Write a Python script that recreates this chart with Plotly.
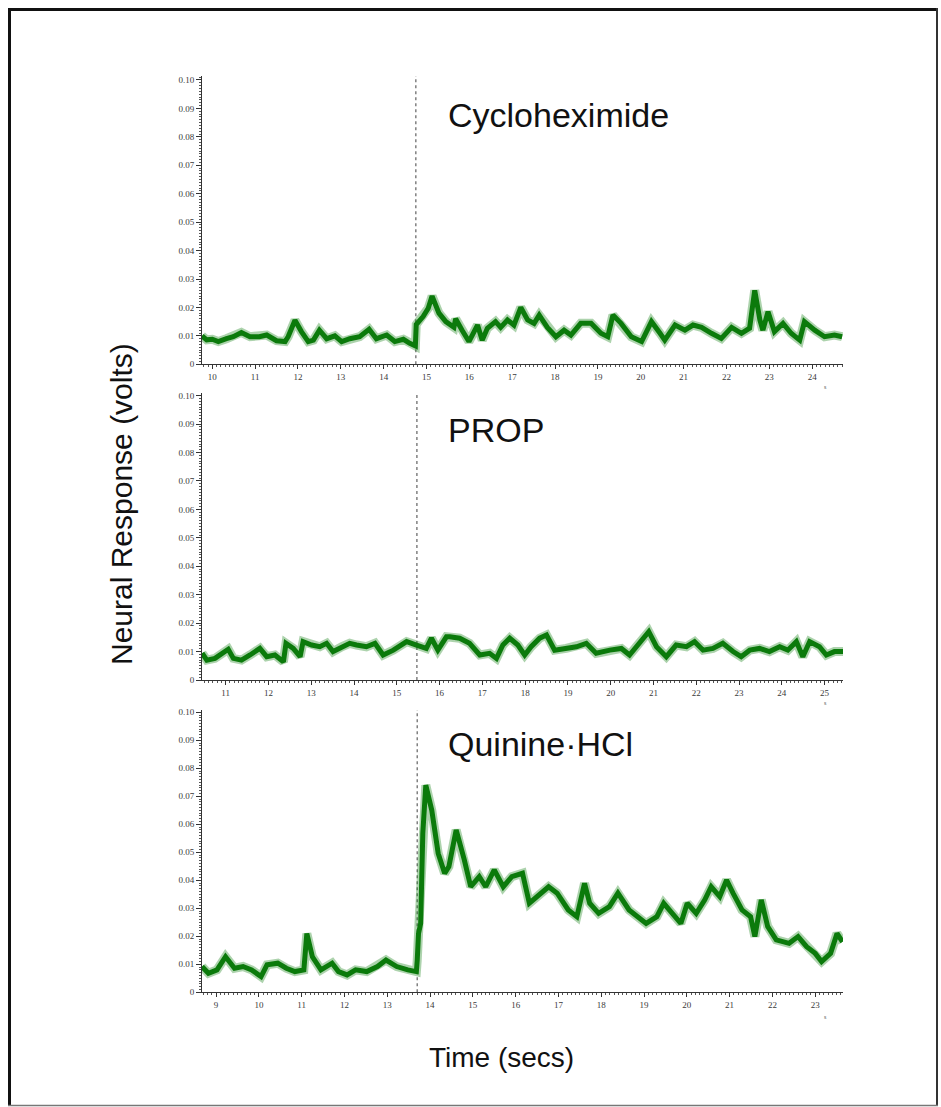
import plotly.graph_objects as go

W, H = 941, 1107

# ---------------- data (seconds, volts) ----------------
cyclo_t = [9.76, 9.87, 10.0, 10.14, 10.33, 10.49, 10.68, 10.88, 11.1, 11.27, 11.5, 11.7, 11.77, 11.93,
           12.08, 12.24, 12.36, 12.5, 12.67, 12.86, 13.02, 13.21, 13.44, 13.66, 13.83, 14.07, 14.26,
           14.46, 14.61, 14.74, 14.76, 14.92, 15.04, 15.13, 15.29, 15.45, 15.64, 15.68, 15.83, 15.99,
           16.19, 16.30, 16.42, 16.61, 16.73, 16.89, 17.04, 17.2, 17.36, 17.51, 17.63, 17.82, 18.02,
           18.21, 18.37, 18.6, 18.84, 19.07, 19.23, 19.35, 19.54, 19.78, 20.02, 20.25, 20.45, 20.56,
           20.8, 21.03, 21.22, 21.42, 21.65, 21.88, 22.12, 22.35, 22.54, 22.66, 22.78, 22.85, 22.97,
           23.12, 23.32, 23.51, 23.71, 23.82, 24.06, 24.29, 24.52, 24.70]
cyclo_v = [0.0100, 0.0086, 0.0088, 0.0080, 0.0090, 0.0097, 0.0112, 0.0097, 0.0097, 0.0103, 0.0083,
           0.0080, 0.0097, 0.0155, 0.0115, 0.0080, 0.0085, 0.0120, 0.0090, 0.0100, 0.0080, 0.0090,
           0.0097, 0.0123, 0.0090, 0.0103, 0.0080, 0.0088, 0.0074, 0.0065, 0.0140, 0.0168, 0.0197,
           0.0240, 0.0180, 0.0150, 0.0130, 0.0160, 0.0120, 0.0080, 0.0138, 0.0085, 0.0127, 0.0150,
           0.0130, 0.0156, 0.0138, 0.0200, 0.0156, 0.0144, 0.0173, 0.0130, 0.0097, 0.0120, 0.0103,
           0.0144, 0.0144, 0.0109, 0.0097, 0.0173, 0.0144, 0.0097, 0.0080, 0.0150, 0.0109, 0.0085,
           0.0138, 0.0120, 0.0138, 0.0130, 0.0109, 0.0091, 0.0130, 0.0109, 0.0127, 0.0260, 0.0156,
           0.0120, 0.0185, 0.0115, 0.0144, 0.0109, 0.0085, 0.0150, 0.0120, 0.0097, 0.0103, 0.0097]

prop_t = [10.45, 10.56, 10.75, 10.95, 11.06, 11.18, 11.37, 11.57, 11.8, 11.96, 12.15, 12.35, 12.41,
          12.58, 12.74, 12.81, 13.01, 13.2, 13.36, 13.51, 13.71, 13.9, 14.06, 14.29, 14.49, 14.68,
          14.92, 15.23, 15.46, 15.69, 15.81, 15.96, 16.16, 16.24, 16.47, 16.7, 16.94, 17.17, 17.33,
          17.48, 17.64, 17.83, 17.99, 18.14, 18.34, 18.5, 18.69, 18.96, 19.2, 19.43, 19.66, 19.98,
          20.25, 20.44, 20.68, 20.89, 21.07, 21.3, 21.53, 21.77, 21.96, 22.16, 22.39, 22.62, 22.86,
          23.05, 23.25, 23.48, 23.71, 23.95, 24.14, 24.34, 24.49, 24.65, 24.88, 25.04, 25.23, 25.43]
prop_v = [0.0094, 0.0070, 0.0076, 0.0094, 0.0108, 0.0076, 0.0070, 0.0088, 0.0111, 0.0082, 0.0088,
          0.0064, 0.0129, 0.0111, 0.0082, 0.0135, 0.0123, 0.0117, 0.0129, 0.0100, 0.0117, 0.0129,
          0.0123, 0.0117, 0.0129, 0.0088, 0.0105, 0.0135, 0.0123, 0.0111, 0.0147, 0.0105, 0.0152,
          0.0152, 0.0147, 0.0129, 0.0088, 0.0094, 0.0076, 0.0123, 0.0147, 0.0123, 0.0088, 0.0117,
          0.0147, 0.0158, 0.0105, 0.0111, 0.0117, 0.0129, 0.0094, 0.0105, 0.0111, 0.0088, 0.0135,
          0.0170, 0.0117, 0.0082, 0.0123, 0.0117, 0.0135, 0.0105, 0.0111, 0.0129, 0.0100, 0.0082,
          0.0105, 0.0111, 0.0100, 0.0117, 0.0105, 0.0135, 0.0082, 0.0135, 0.0117, 0.0088, 0.0100,
          0.0100]

quin_t = [8.67, 8.82, 9.02, 9.22, 9.43, 9.63, 9.83, 10.05, 10.19, 10.44, 10.64, 10.84, 11.05, 11.12,
          11.25, 11.45, 11.71, 11.86, 12.06, 12.26, 12.52, 12.77, 12.97, 13.22, 13.48, 13.68, 13.70,
          13.73, 13.78, 13.83, 13.9, 14.04, 14.19, 14.34, 14.44, 14.61, 14.8, 14.95, 15.15, 15.3,
          15.5, 15.71, 15.91, 16.16, 16.32, 16.52, 16.77, 16.97, 17.23, 17.43, 17.61, 17.73, 17.94,
          18.19, 18.39, 18.65, 18.85, 19.05, 19.3, 19.46, 19.66, 19.86, 20.01, 20.22, 20.42, 20.57,
          20.77, 20.93, 21.08, 21.29, 21.49, 21.59, 21.74, 21.89, 22.09, 22.39, 22.6, 22.8, 23.0,
          23.15, 23.36, 23.51, 23.64]
quin_v = [0.0092, 0.0068, 0.0080, 0.0127, 0.0086, 0.0092, 0.0080, 0.0056, 0.0098, 0.0104, 0.0086,
          0.0074, 0.0080, 0.0210, 0.0127, 0.0080, 0.0104, 0.0074, 0.0062, 0.0080, 0.0074, 0.0092,
          0.0115, 0.0092, 0.0080, 0.0074, 0.0115, 0.0210, 0.0246, 0.0568, 0.0740, 0.0650, 0.0496,
          0.0425, 0.0449, 0.0580, 0.0473, 0.0377, 0.0413, 0.0377, 0.0437, 0.0377, 0.0413, 0.0425,
          0.0318, 0.0342, 0.0377, 0.0354, 0.0294, 0.0270, 0.0389, 0.0318, 0.0282, 0.0306, 0.0354,
          0.0294, 0.0270, 0.0246, 0.0270, 0.0318, 0.0282, 0.0246, 0.0318, 0.0282, 0.0330, 0.0377,
          0.0342, 0.0401, 0.0354, 0.0294, 0.0270, 0.0199, 0.0330, 0.0235, 0.0187, 0.0175, 0.0199,
          0.0163, 0.0139, 0.0110, 0.0139, 0.0210, 0.0180]

panel_names = ["Cycloheximide", "PROP", "Quinine\u00b7HCl"]
stimulus_onset = [14.75, 15.47, 13.70]
x_ranges = [[9.76, 24.72], [10.447, 25.43], [8.67, 23.65]]
y_tops = [0.1014, 0.10095, 0.10082]
y_tickvals = [0, 0.01, 0.02, 0.03, 0.04, 0.05, 0.06, 0.07, 0.08, 0.09, 0.10]
y_ticktext = ["0", "0.01", "0.02", "0.03", "0.04", "0.05", "0.06", "0.07", "0.08", "0.09", "0.10"]

series = [(cyclo_t, cyclo_v), (prop_t, prop_v), (quin_t, quin_v)]

# ---------------- layout helpers (pixel -> paper) ----------------
def px(x):
    return x / W

def py(y):
    return 1 - y / H

x_dom = [px(202), px(843)]
y_doms = [[py(364.3), py(76)], [py(680), py(393)], [py(992.3), py(710)]]

GREEN = "#0b7a0b"
AXC = "#333333"
TICKFONT = dict(family="Liberation Serif", size=9, color="#3a3a3a")

fig = go.Figure()
layout = dict(
    width=W, height=H,
    margin=dict(l=0, r=0, t=0, b=0),
    paper_bgcolor="white", plot_bgcolor="white",
    showlegend=False,
)

for i, (t, v) in enumerate(series):
    n = "" if i == 0 else str(i + 1)
    # soft halo (fuzzy band edge) + solid core
    fig.add_trace(go.Scatter(x=t, y=v, mode="lines",
                             line=dict(color="rgba(20,130,20,0.35)", width=9),
                             xaxis="x" + n, yaxis="y" + n, hoverinfo="skip"))
    fig.add_trace(go.Scatter(x=t, y=v, mode="lines",
                             line=dict(color=GREEN, width=5),
                             xaxis="x" + n, yaxis="y" + n, hoverinfo="skip"))
    layout["xaxis" + n] = dict(
        domain=x_dom, range=x_ranges[i], anchor="y" + n,
        showgrid=False, zeroline=False, showline=True, linecolor=AXC, linewidth=1,
        ticks="outside", ticklen=4, tickcolor=AXC, tickwidth=1,
        dtick=1, tick0=0, tickfont=TICKFONT, automargin=False,
        minor=dict(dtick=0.1, tick0=0, ticks="outside", ticklen=2, tickcolor="#555555", showgrid=False),
        fixedrange=True,
    )
    layout["yaxis" + n] = dict(
        domain=y_doms[i], range=[0, y_tops[i]], anchor="x" + n,
        showgrid=False, zeroline=False, showline=True, linecolor=AXC, linewidth=1,
        ticks="outside", ticklen=5, tickcolor=AXC, tickwidth=1,
        tickvals=y_tickvals, ticktext=y_ticktext, tickfont=TICKFONT, automargin=False,
        minor=dict(dtick=0.001, tick0=0, ticks="outside", ticklen=2.5, tickcolor="#555555", showgrid=False),
        fixedrange=True,
    )

fig.update_layout(**layout)

shapes = []
for i, t0 in enumerate(stimulus_onset):
    n = "" if i == 0 else str(i + 1)
    shapes.append(dict(type="line", xref="x" + n, yref="y" + n + " domain",
                       x0=t0, x1=t0, y0=0, y1=1,
                       line=dict(color="#808080", width=1.5, dash="dot"), layer="below"))

# outer frame
shapes += [
    dict(type="line", xref="paper", yref="paper", x0=px(9.5), x1=px(9.5), y0=py(8), y1=py(1106),
         line=dict(color="#111111", width=3)),
    dict(type="line", xref="paper", yref="paper", x0=px(8), x1=px(938), y0=py(9.5), y1=py(9.5),
         line=dict(color="#111111", width=3)),
    dict(type="line", xref="paper", yref="paper", x0=px(937), x1=px(937), y0=py(8), y1=py(1106),
         line=dict(color="#333333", width=2)),
    dict(type="line", xref="paper", yref="paper", x0=px(8), x1=px(938), y0=py(1105.5), y1=py(1105.5),
         line=dict(color="#777777", width=1.5)),
]

annotations = []
label_y = [115.5, 430, 744]
for i, name in enumerate(panel_names):
    annotations.append(dict(text=name, xref="paper", yref="paper", x=px(446), y=py(label_y[i]),
                            xanchor="left", yanchor="middle", showarrow=False,
                            font=dict(family="Liberation Sans", size=34, color="#111111")))
# small unit marks at axis ends
for yy in [387, 703, 1017]:
    annotations.append(dict(text="s", xref="paper", yref="paper", x=px(825), y=py(yy),
                            xanchor="center", yanchor="middle", showarrow=False,
                            font=dict(family="Liberation Serif", size=6, color="#555555")))

annotations.append(dict(text="Time (secs)", xref="paper", yref="paper", x=px(501), y=py(1057),
                        xanchor="center", yanchor="middle", showarrow=False,
                        font=dict(family="Liberation Sans", size=28, color="#111111")))
annotations.append(dict(text="Neural Response (volts)", xref="paper", yref="paper", x=px(121), y=py(504),
                        xanchor="center", yanchor="middle", showarrow=False, textangle=-90,
                        font=dict(family="Liberation Sans", size=30, color="#111111")))

fig.update_layout(shapes=shapes, annotations=annotations)
fig.write_html("out.html", config={"displayModeBar": False},
               post_script="document.body.style.margin='0px';")
